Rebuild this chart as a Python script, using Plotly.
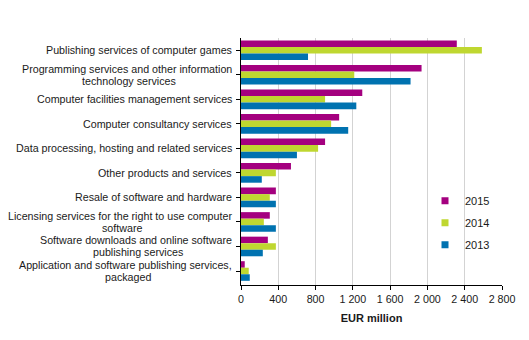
import plotly.graph_objects as go

categories = [
    "Publishing services of computer games",
    "Programming services and other information<br>technology services",
    "Computer facilities management services",
    "Computer consultancy services",
    "Data processing, hosting and related services",
    "Other products and services",
    "Resale of software and hardware",
    "Licensing services for the right to use computer<br>software",
    "Software downloads and online software<br>publishing services",
    "Application and software publishing services,<br>packaged",
]
v2015 = [2315, 1937, 1301, 1053, 902, 536, 374, 309, 288, 40]
v2014 = [2584, 1215, 902, 967, 827, 374, 309, 245, 374, 83]
v2013 = [719, 1819, 1237, 1150, 600, 223, 374, 374, 234, 94]
years = ["2015", "2014", "2013"]
colors = ["#a4007f", "#bfd730", "#0072b0"]
tick_vals = [0, 400, 800, 1200, 1600, 2000, 2400, 2800]
FS = 10.7
LH = 12  # label line height in px
GAP = 7  # gap between label and axis

# approximate Arial / Liberation Sans advance widths (per 1000 em)
_W = {" ": 278, ",": 278, "-": 333, "A": 667, "C": 722, "D": 722, "L": 556,
      "O": 778, "P": 667, "R": 722, "S": 667,
      "a": 556, "b": 556, "c": 500, "d": 556, "e": 556, "f": 278, "g": 556,
      "h": 556, "i": 222, "j": 222, "k": 500, "l": 222, "m": 833, "n": 556,
      "o": 556, "p": 556, "q": 556, "r": 333, "s": 500, "t": 278, "u": 556,
      "v": 500, "w": 722, "x": 500, "y": 500, "z": 500}


def text_width(s):
    return sum(_W.get(ch, 556) for ch in s) * FS / 1000.0


fig = go.Figure()
for i, (name, vals) in enumerate(zip(years, [v2015, v2014, v2013])):
    fig.add_trace(go.Bar(
        y=categories, x=vals, name=name, orientation="h",
        marker=dict(color=colors[i], line=dict(width=0)),
        showlegend=False,
    ))
# legend entries with small square symbols
for i, name in enumerate(years):
    fig.add_trace(go.Scatter(
        x=[None], y=[None], mode="markers", name=name,
        marker=dict(symbol="square", size=7, color=colors[i]),
        legendgroup=name, showlegend=True,
    ))

for c in categories:
    lines = c.split("<br>")
    n = len(lines)
    widths = [text_width(l) for l in lines]
    wmax = max(widths)
    for k, line in enumerate(lines):
        ys = ((n - 1) / 2.0 - k) * LH
        if n == 1 or widths[k] == wmax:
            xa, xs = "right", -GAP
        else:
            xa, xs = "center", -GAP - wmax / 2.0
        fig.add_annotation(
            x=0, xref="paper", y=c, yref="y", text=line, showarrow=False,
            xanchor=xa, yanchor="middle", xshift=xs, yshift=ys,
            font=dict(size=FS, color="#1a1a1a"),
        )

fig.update_layout(
    width=529, height=340,
    margin=dict(l=241, r=27, t=38, b=55),
    paper_bgcolor="white", plot_bgcolor="white",
    barmode="group", bargap=0.2, bargroupgap=0,
    separators=". ",
    font=dict(family="Liberation Sans, Arial, sans-serif", size=FS, color="#1a1a1a"),
    legend=dict(x=0.705, y=0.40, xanchor="left", yanchor="top",
                bgcolor="rgba(0,0,0,0)", tracegroupgap=3,
                font=dict(size=11), itemwidth=30),
    showlegend=True,
    shapes=[dict(type="rect", xref="paper", yref="paper",
                 x0=0.76, x1=0.99, y0=0.12, y1=0.39,
                 fillcolor="white", line=dict(width=0), layer="below")],
)
fig.update_xaxes(
    range=[0, 2800], tickvals=tick_vals, tickformat=",",
    showgrid=True, gridcolor="#d3d3d3", gridwidth=1,
    showline=True, linecolor="black", linewidth=1,
    ticks="outside", ticklen=4, tickcolor="black",
    zeroline=False, automargin=False,
    title=dict(text="<b>EUR million</b>", standoff=10, font=dict(size=11)),
)
fig.update_yaxes(
    autorange="reversed", showticklabels=False, automargin=False,
    showline=True, linecolor="black", linewidth=1,
    ticks="outside", ticklen=4, tickcolor="black",
    showgrid=False,
)

fig.write_html("out.html")
